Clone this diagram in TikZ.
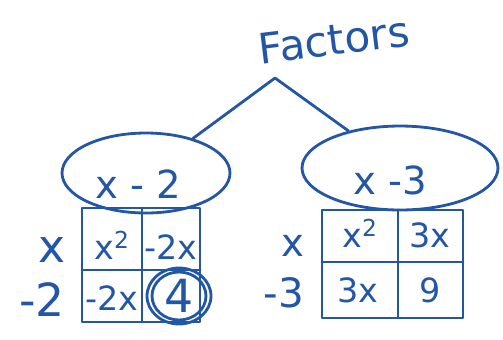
\documentclass[tikz,border=0pt]{standalone}
\usepackage{fontspec}
\setmainfont{DejaVu Sans}
\usetikzlibrary{shapes.geometric, positioning}
\definecolor{ink}{HTML}{2456A6}

\begin{document}
\begin{tikzpicture}[x=0.02cm, y=-0.02cm,
  pen/.style={draw=ink, line width=1.6pt, line cap=round, line join=round},
  hand/.style={text=ink, inner sep=0pt, font=\fontsize{19}{21}\selectfont},
  big/.style={hand, font=\fontsize{22}{24}\selectfont},
  rowlab/.style={hand, font=\fontsize{26}{28}\selectfont},
  oval/.style={ellipse, pen, inner sep=0pt}
]
\useasboundingbox (0,0) rectangle (503,339);

% title and branches
\node[big, font=\fontsize{24}{26}\selectfont, rotate=7] (title) at (334,40) {Factors};
\coordinate (apex) at (275,78);
\node[oval, minimum width=3.36cm, minimum height=1.6cm] (lf) at (146,173) {};
\node[oval, minimum width=3.92cm, minimum height=1.68cm] (rf) at (400,168) {};
\draw[pen] (lf) -- (apex) -- (rf);
\node[big] (lfx) at (138,184) {x - 2};
\node[big] (rfx) at (390,180) {x -3};

% left box
\draw[pen] (82,208) rectangle (200,322);
\draw[pen] (142,208) -- (142,322);
\draw[pen] (82,270) -- (200,270);
\node[rowlab] (lr1) at (52,250) {x};
\node[rowlab] (lr2) at (42,300) {-2};
\node[hand] (la) at (112,245) {x\textsuperscript{2}};
\node[hand] (lb) at (171,247) {-2x};
\node[hand] (lc) at (112,298) {-2x};
\node[rowlab] (ld) at (179,296) {4};
\draw[pen] (ld) ellipse [x radius=0.64cm, y radius=0.56cm];
\draw[pen] (ld) ellipse [x radius=0.54cm, y radius=0.48cm];

% right box
\draw[pen] (322,210) rectangle (463,318);
\draw[pen] (398,210) -- (398,318);
\draw[pen] (322,262) -- (463,262);
\node[hand, font=\fontsize{22}{24}\selectfont] (rr1) at (293,246) {x};
\node[hand, font=\fontsize{23}{25}\selectfont] (rr2) at (284,293) {-3};
\node[hand] (ra) at (360,233) {x\textsuperscript{2}};
\node[hand] (rb) at (430,235) {3x};
\node[hand] (rc) at (358,290) {3x};
\node[hand] (rd) at (430,290) {9};
\end{tikzpicture}
\end{document}
